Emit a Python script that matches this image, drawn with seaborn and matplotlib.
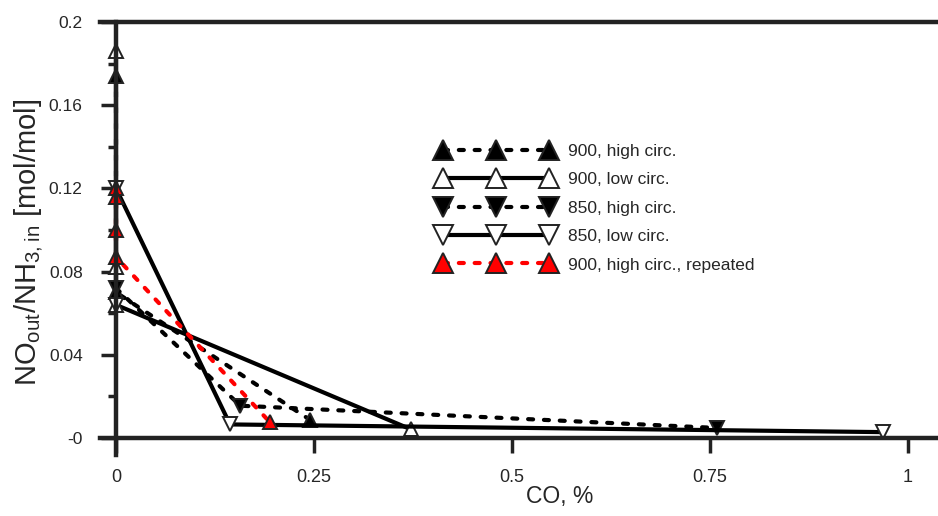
import numpy as np
import pandas as pd
import seaborn as sns
import matplotlib
matplotlib.use("Agg")
import matplotlib.pyplot as plt
from matplotlib.ticker import MultipleLocator

# values (CO in %, NO_out/NH3_in in mol/mol)
co_900_high = [0, 0, 0.245]
no_900_high = [0.174, 0.070, 0.0087]

co_900_low = [0, 0, 0, 0.372]
no_900_low = [0.186, 0.082, 0.064, 0.0042]

co_850_high = [0, 0.157, 0.759]
no_850_high = [0.072, 0.0155, 0.0048]

co_850_low = [0, 0, 0.144, 0.968]
no_850_low = [0.064, 0.120, 0.0065, 0.0028]

co_900_rep = [0, 0, 0, 0, 0.194]
no_900_rep = [0.120, 0.116, 0.100, 0.087, 0.0077]

labels = ["900, high circ.", "900, low circ.", "850, high circ.",
          "850, low circ.", "900, high circ., repeated"]
x_ticks = [0, 0.25, 0.5, 0.75, 1]
x_ticklabels = ["0", "0.25", "0.5", "0.75", "1"]
y_ticks = [0, 0.04, 0.08, 0.12, 0.16, 0.2]
y_ticklabels = ["-0", "0.04", "0.08", "0.12", "0.16", "0.2"]

sns.set_style("white")
plt.rcParams['font.family'] = ['Liberation Sans', 'DejaVu Sans']
plt.rcParams['mathtext.fontset'] = 'custom'
plt.rcParams['mathtext.rm'] = 'Liberation Sans'

fig = plt.figure(figsize=(9.38, 5.16), dpi=100)
ax = fig.add_axes([100/938, 61/516, 838/938, 433/516])

dotted = (0, (1.2, 2.6))
series = [
    (co_900_high, no_900_high, labels[0], '^', 'k', 'k', dotted),
    (co_900_low, no_900_low, labels[1], '^', 'k', 'white', '-'),
    (co_850_high, no_850_high, labels[2], 'v', 'k', 'k', dotted),
    (co_850_low, no_850_low, labels[3], 'v', 'k', 'white', '-'),
    (co_900_rep, no_900_rep, labels[4], '^', 'red', 'red', dotted),
]
for xs, ys, lab, mk, col, fc, ls in series:
    sns.lineplot(x=xs, y=ys, ax=ax, sort=False, estimator=None, label=lab,
                 color=col, linestyle=ls, linewidth=3, marker=mk, markersize=10,
                 markerfacecolor=fc, markeredgecolor='#222222', markeredgewidth=1.4,
                 dash_capstyle='round', solid_capstyle='butt')

ax.set_xlim(-0.0202, 1.0379)
ax.set_ylim(-0.0082, 0.2)

for side in ['left', 'bottom', 'top']:
    ax.spines[side].set_linewidth(3.2)
    ax.spines[side].set_color('#222222')
ax.spines['right'].set_visible(False)
ax.spines['left'].set_position(('data', 0))
ax.spines['bottom'].set_position(('data', 0))

ax.set_xticks(x_ticks)
ax.set_xticklabels(x_ticklabels)
ax.set_yticks(y_ticks)
ax.set_yticklabels(y_ticklabels)
ax.yaxis.set_minor_locator(MultipleLocator(0.02))
ax.tick_params(axis='x', direction='out', length=11, width=2.5, color='#222222',
               pad=11, labelsize=13, bottom=True)
ax.tick_params(axis='y', which='major', direction='out', length=11, width=2.5,
               color='#222222', pad=13, labelsize=12.5, left=True)
ax.tick_params(axis='y', which='minor', direction='out', length=6, width=2.5,
               color='#222222', left=True)

ax.set_xlabel("CO, %", fontsize=16.5)
ax.set_ylabel(r"NO$_\mathregular{out}$/NH$_\mathregular{3,in}$ [mol/mol]", fontsize=21)
ax.xaxis.set_label_coords(0.548, -0.07)
ax.yaxis.set_label_coords(-0.066, 0.492)

ax.legend(loc='upper left', bbox_to_anchor=(438/938, 1 - 144/516),
          bbox_transform=fig.transFigure, frameon=False, numpoints=3,
          markerscale=1.4, handlelength=6.7, handletextpad=0.8,
          labelspacing=0.76, fontsize=12.5, borderpad=0, borderaxespad=0)

plt.savefig("out.png", dpi=100)
